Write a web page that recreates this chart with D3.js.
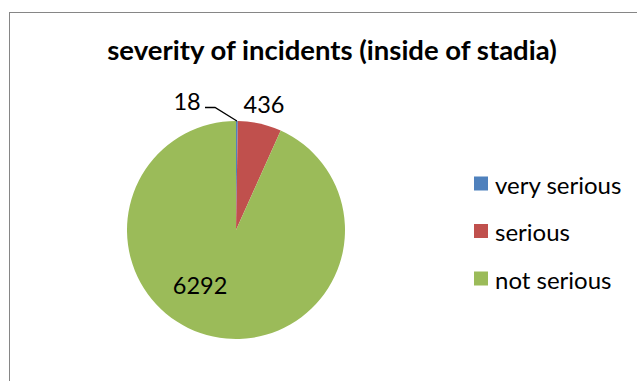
<!DOCTYPE html>
<html>
<head>
<meta charset="utf-8">
<script src="https://cdn.jsdelivr.net/npm/d3@7"></script>
<style>
  html, body { margin: 0; padding: 0; background: #fff; }
  svg { display: block; }
  text { font-family: Lato, "Open Sans", sans-serif; fill: #000; }
</style>
</head>
<body>
<svg id="chart" width="637" height="381"></svg>
<script>
// Incident counts by severity
const categories = ["very serious", "serious", "not serious"];
const incidents = [18, 436, 6292];
const colors = ["#4F81BD", "#C0504D", "#9BBB59"];
const titleText = "severity of incidents (inside of stadia)";

const W = 637, H = 381;
const svg = d3.select("#chart");

// Chart area frame (extends past the right and bottom edges)
svg.append("rect")
  .attr("x", 9.5).attr("y", 12.5)
  .attr("width", W + 20).attr("height", H + 20)
  .attr("fill", "#fff")
  .attr("stroke", "#868686").attr("stroke-width", 1);

svg.append("text")
  .attr("x", 332).attr("y", 60)
  .attr("text-anchor", "middle")
  .attr("font-size", 27.5).attr("font-weight", "bold")
  .text(titleText);

const cx = 236, cy = 230, R = 109;
const pie = d3.pie().sort(null).value(d => d)(incidents);
const arc = d3.arc().innerRadius(0).outerRadius(R);
const color = d3.scaleOrdinal().domain(categories).range(colors);

const g = svg.append("g").attr("transform", `translate(${cx},${cy})`);
g.selectAll("path.slice")
  .data(pie)
  .join("path")
  .attr("class", "slice")
  .attr("d", arc)
  .attr("fill", (d, i) => color(categories[i]));

// Data labels: polar placement (angle shift in radians, radius factor) per slice
const labelPlace = [
  { da: -0.37, rf: 1.27, leader: true },
  { da: 0.0, rf: 1.18, leader: false },
  { da: 0.37, rf: 0.6, leader: false }
];
function polar(a, r) { return [Math.sin(a) * r, -Math.cos(a) * r]; }

pie.forEach((d, i) => {
  const mid = (d.startAngle + d.endAngle) / 2;
  const p = labelPlace[i];
  const [lx, ly] = polar(mid + p.da, R * p.rf);
  if (p.leader) {
    const [ex, ey] = polar(mid, R);
    g.append("polyline")
      .attr("points", [[lx + 18, ly + 7], [lx + 28, ly + 7], [ex, ey]].map(q => q.join(",")).join(" "))
      .attr("fill", "none").attr("stroke", "#000").attr("stroke-width", 1.3);
  }
  g.append("text")
    .attr("x", lx).attr("y", ly)
    .attr("text-anchor", "middle")
    .attr("dominant-baseline", "central")
    .attr("font-size", 23.5)
    .text(d.data);
});

// Legend
const legendY = d3.scalePoint().domain(categories).range([184, 279]);
const lg = svg.append("g");
categories.forEach(c => {
  lg.append("rect")
    .attr("x", 474).attr("y", legendY(c) - 7.5)
    .attr("width", 14).attr("height", 14)
    .attr("fill", color(c));
  lg.append("text")
    .attr("x", 495).attr("y", legendY(c))
    .attr("dominant-baseline", "central")
    .attr("font-size", 24)
    .text(c);
});
</script>
</body>
</html>
